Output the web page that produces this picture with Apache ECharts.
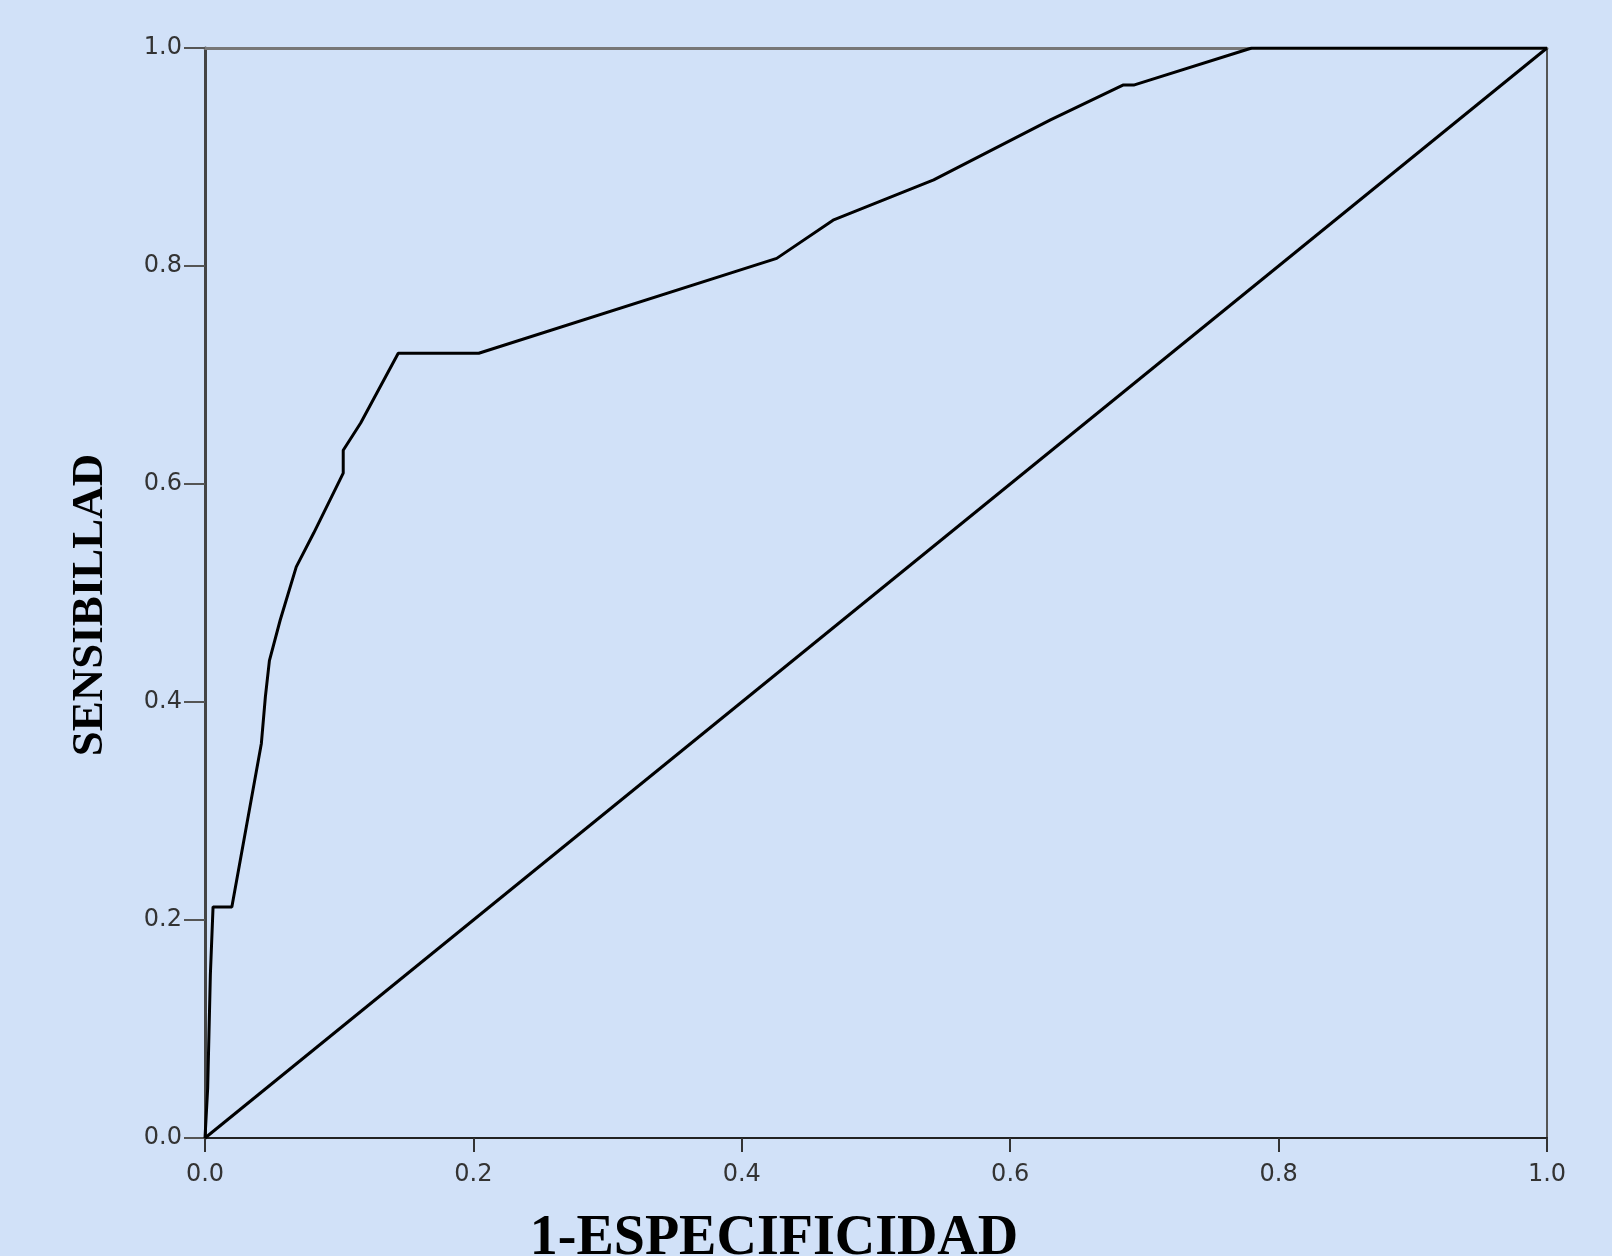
<!DOCTYPE html>
<html>
<head>
<meta charset="utf-8">
<script src="https://cdn.jsdelivr.net/npm/echarts@6/dist/echarts.min.js"></script>
<style>
html,body{margin:0;padding:0;background:#d1e1f8;overflow:hidden;}
#chart{width:1612px;height:1256px;}
</style>
</head>
<body>
<div id="chart"></div>
<script>
// ROC curve (1-Especificidad, Sensibilidad)
const rocX = [0, 0.002, 0.004, 0.006, 0.020, 0.042, 0.045, 0.048, 0.056, 0.068, 0.081, 0.103, 0.103, 0.116, 0.144, 0.204, 0.426, 0.468, 0.543, 0.630, 0.684, 0.692, 0.780, 1.0];
const rocY = [0, 0.046, 0.150, 0.212, 0.212, 0.362, 0.405, 0.438, 0.475, 0.524, 0.555, 0.610, 0.631, 0.656, 0.720, 0.720, 0.807, 0.842, 0.879, 0.934, 0.966, 0.966, 1.0, 1.0];
// Reference diagonal
const refX = [0, 1];
const refY = [0, 1];
const tickValues = [0.0, 0.2, 0.4, 0.6, 0.8, 1.0];
const xName = '1-ESPECIFICIDAD';
const yName = 'SENSIBILLAD';

const rocData = rocX.map((x, i) => [x, rocY[i]]);
const refData = refX.map((x, i) => [x, refY[i]]);
const fmt = v => v.toFixed(1);

const chart = echarts.init(document.getElementById('chart'), null, { width: 1612, height: 1256 });
chart.setOption({
  backgroundColor: '#d1e1f8',
  animation: false,
  grid: { left: 205, width: 1342, top: 48, height: 1090, containLabel: false, outerBoundsMode: 'none' },
  xAxis: [{
    type: 'value', min: 0, max: 1, interval: 0.2,
    position: 'bottom',
    name: xName, nameLocation: 'middle', nameGap: 74,
    nameTextStyle: { fontFamily: 'Liberation Serif', fontWeight: 'bold', fontSize: 56, color: '#000', padding: [0, 204, 0, 0] },
    axisLine: { show: true, onZero: false, lineStyle: { color: '#222', width: 2 } },
    axisTick: { show: true, length: 14, lineStyle: { color: '#333', width: 2 } },
    axisLabel: { margin: 25, formatter: fmt, fontFamily: 'DejaVu Sans', fontSize: 24, color: '#333' },
    splitLine: { show: false }
  }, {
    type: 'value', min: 0, max: 1, position: 'top',
    axisLine: { show: true, onZero: false, lineStyle: { color: '#777', width: 3 } },
    axisTick: { show: false }, axisLabel: { show: false }, splitLine: { show: false }
  }],
  yAxis: [{
    type: 'value', min: 0, max: 1, interval: 0.2,
    position: 'left',
    name: yName, nameLocation: 'middle', nameGap: 92, nameRotate: 90,
    nameTextStyle: { fontFamily: 'Liberation Serif', fontWeight: 'bold', fontSize: 45, color: '#000', padding: [0, 24, 0, 0] },
    axisLine: { show: true, onZero: false, lineStyle: { color: '#444', width: 3 } },
    axisTick: { show: true, length: 21, lineStyle: { color: '#555', width: 2 } },
    axisLabel: { margin: 23, formatter: fmt, fontFamily: 'DejaVu Sans', fontSize: 24, color: '#333', padding: [10, 0, 0, 0] },
    splitLine: { show: false }
  }, {
    type: 'value', min: 0, max: 1, position: 'right',
    axisLine: { show: true, onZero: false, lineStyle: { color: '#555', width: 2 } },
    axisTick: { show: false }, axisLabel: { show: false }, splitLine: { show: false }
  }],
  series: [{
    type: 'line', data: refData, showSymbol: false, symbol: 'none',
    lineStyle: { color: '#000', width: 3 }, z: 3
  }, {
    type: 'line', data: rocData, showSymbol: false, symbol: 'none',
    lineStyle: { color: '#000', width: 3 }, z: 4
  }]
});
</script>
</body>
</html>
